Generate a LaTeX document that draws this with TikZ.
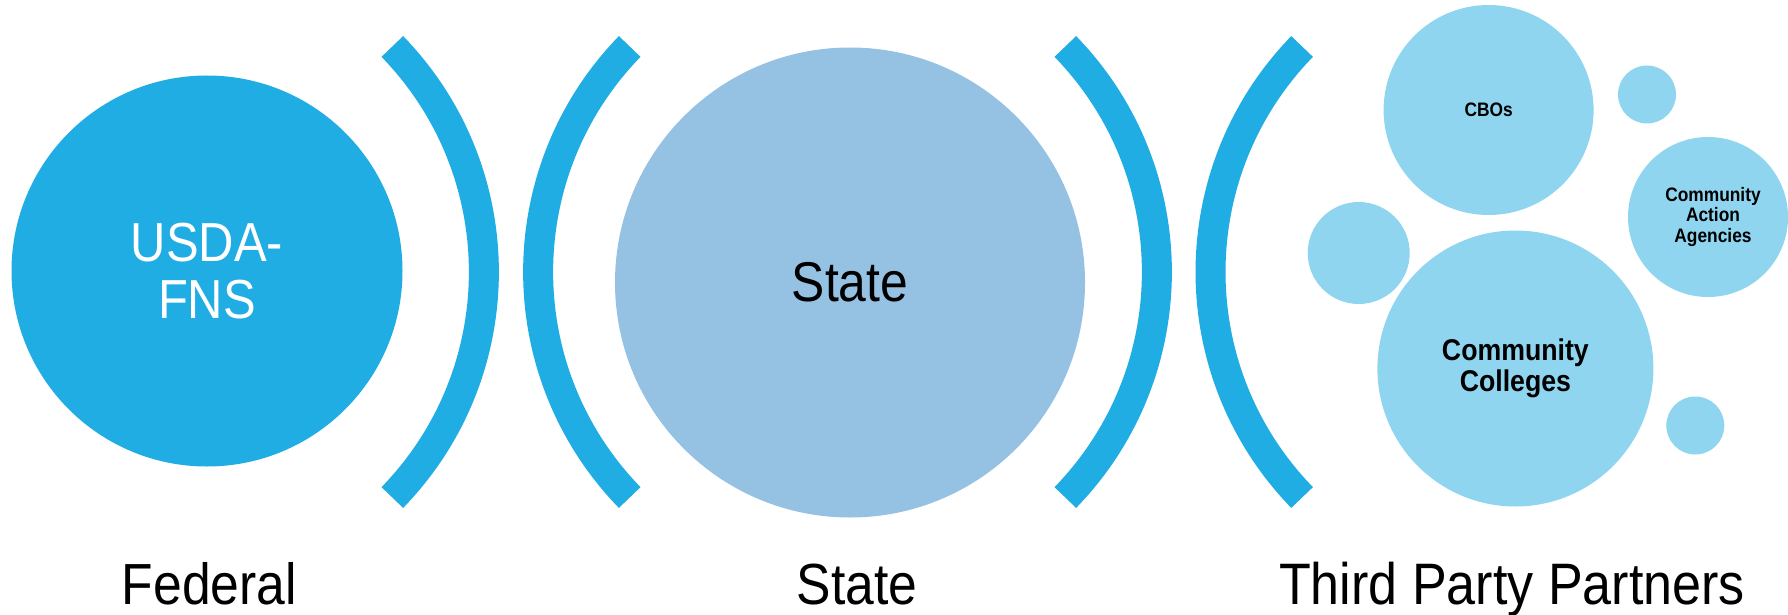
\documentclass[tikz,border=0pt]{standalone}
\usepackage{fontspec}
\setmainfont{Liberation Sans}[FakeStretch=0.89]
\definecolor{arcblue}{HTML}{1FADE3}
\definecolor{stateblue}{HTML}{95C1E2}
\definecolor{partnerblue}{HTML}{8FD5F0}
\begin{document}
\begin{tikzpicture}[x=1pt,y=-1pt,
  bracket/.style={draw=arcblue, line width=30pt},
  bubble/.style={circle, inner sep=0pt, align=center},
  partner/.style={bubble, fill=partnerblue, font=\bfseries},
  tierlabel/.style={anchor=base, inner sep=0pt, font=\fontsize{58}{60}\selectfont}]
\useasboundingbox (0,0) rectangle (1788,615);
% brackets
\draw[bracket] (160.4,272) ++(-44.2:323.5) arc[start angle=-44.2, end angle=44.2, radius=323.5];
\draw[bracket] (861.6,272) ++(135.8:323.5) arc[start angle=135.8, end angle=224.2, radius=323.5];
\draw[bracket] (833.4,272) ++(-44.2:323.5) arc[start angle=-44.2, end angle=44.2, radius=323.5];
\draw[bracket] (1534,272) ++(135.8:323.5) arc[start angle=135.8, end angle=224.2, radius=323.5];
% main circles
\node[bubble, fill=arcblue, minimum size=391pt, text=white,
  font=\fontsize{55}{57}\selectfont] (usda) at (207,271) {USDA-\\FNS};
\node[bubble, fill=stateblue, minimum size=470pt,
  font=\fontsize{56}{58}\selectfont] (statec) at (850,282.5) {State};
% partners
\node[partner, minimum size=210pt] (cbo) at (1488.6,110) {};
\node[font=\bfseries\fontsize{19.5}{20}\selectfont, inner sep=0pt] (cbotext) at (cbo.center) {CBOs};
\node[partner, minimum size=58pt] (dot1) at (1647,94.5) {};
\node[partner, minimum size=160pt] (caa) at (1708,217) {};
\node[font=\bfseries\fontsize{19.5}{20}\selectfont, inner sep=0pt, align=center] (caatext) at (1713,217) {Community\\Action\\Agencies};
\node[partner, minimum size=102pt] (dot2) at (1358.7,253) {};
\node[partner, minimum size=276pt, font=\bfseries\fontsize{30}{31}\selectfont] (cc) at (1515.4,368.5) {Community\\Colleges};
\node[partner, minimum size=58pt] (dot3) at (1695.3,425.5) {};
% tier labels
\node[tierlabel] (fed) at (209.5,604) {Federal};
\node[tierlabel] (st) at (857,604) {State};
\node[tierlabel, font=\fontsize{58.5}{60}\selectfont] (tpp) at (1512,604) {Third Party Partners};
\end{tikzpicture}
\end{document}
